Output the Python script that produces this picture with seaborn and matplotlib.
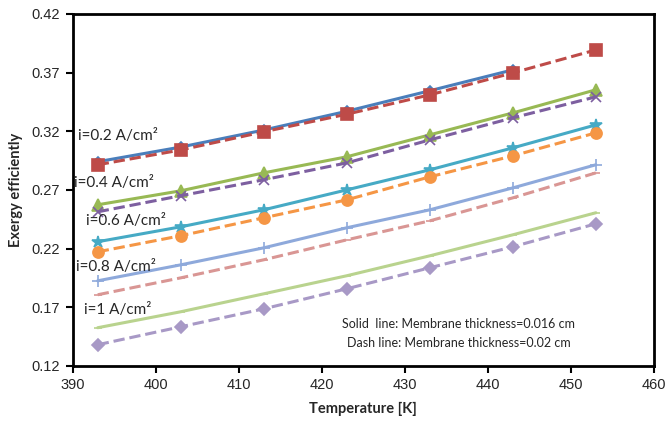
import seaborn as sns
import matplotlib.pyplot as plt

# temperatures [K]
temps = [393, 403, 413, 423, 433, 443, 453]

# solid lines: membrane thickness 0.016 cm
solid_02 = [0.2940, 0.3065, 0.3210, 0.3370, 0.3545, 0.3723]
solid_04 = [0.2573, 0.2692, 0.2845, 0.2982, 0.3169, 0.3356, 0.3553]
solid_06 = [0.2258, 0.2385, 0.2530, 0.2700, 0.2871, 0.3058, 0.3254]
solid_08 = [0.1925, 0.2061, 0.2206, 0.2377, 0.2530, 0.2717, 0.2914]
solid_10 = [0.1525, 0.1661, 0.1814, 0.1968, 0.2138, 0.2317, 0.2505]

# dashed lines: membrane thickness 0.02 cm
dash_02 = [0.2914, 0.3040, 0.3195, 0.3345, 0.3510, 0.3697, 0.3893]
dash_04 = [0.2513, 0.2650, 0.2786, 0.2930, 0.3126, 0.3314, 0.3493]
dash_06 = [0.2172, 0.2309, 0.2462, 0.2615, 0.2811, 0.2990, 0.3186]
dash_08 = [0.1806, 0.1950, 0.2104, 0.2274, 0.2436, 0.2632, 0.2845]
dash_10 = [0.1380, 0.1533, 0.1686, 0.1857, 0.2036, 0.2215, 0.2411]

labels = ["i=0.2 A/cm²", "i=0.4 A/cm²", "i=0.6 A/cm²", "i=0.8 A/cm²", "i=1 A/cm²"]
label_pos = [(390.6, 0.316), (390.2, 0.276), (391.6, 0.2436), (390.4, 0.2044), (391.4, 0.1678)]

sns.set_style("white")
plt.rcParams["font.family"] = ["Liberation Sans", "DejaVu Sans"]
fig = plt.figure(figsize=(6.68, 4.21), dpi=100)
ax = fig.add_axes([0.109, 0.131, 0.870, 0.836])

# (values, colour, linestyle, marker, markersize)
series = [
    (solid_02, "#4A7EBB", "-", "D", 5),
    (dash_02, "#BE4B48", "--", "s", 8),
    (solid_04, "#98B954", "-", "^", 8),
    (dash_04, "#7D5FA0", "--", "x", 7),
    (solid_06, "#46AAC5", "-", "*", 9),
    (dash_06, "#F59645", "--", "o", 8),
    (solid_08, "#8EA9DB", "-", "+", 8),
    (dash_08, "#D99694", "--", "_", 6),
    (solid_10, "#B9D38E", "-", "_", 6),
    (dash_10, "#A899C6", "--", "D", 6),
]

for vals, col, ls, mk, ms in series:
    sns.lineplot(x=temps[:len(vals)], y=vals, ax=ax, color=col, linestyle=ls,
                 linewidth=2.2, marker=mk, markersize=ms, markeredgecolor=col,
                 markeredgewidth=1.2, dashes=ls == "--" and (4, 3) or None)

for lab, (x, y) in zip(labels, label_pos):
    ax.text(x, y, lab, fontsize=11, family="Lato", va="center", ha="left")

ax.text(436.5, 0.1555, "Solid  line: Membrane thickness=0.016 cm", fontsize=9,
        family="Lato", ha="center", va="center")
ax.text(436.5, 0.1395, "Dash line: Membrane thickness=0.02 cm", fontsize=9,
        family="Lato", ha="center", va="center")

ax.set_xlim(390, 460)
ax.set_ylim(0.12, 0.42)
ax.set_xticks(range(390, 461, 10))
ax.set_yticks([0.12, 0.17, 0.22, 0.27, 0.32, 0.37, 0.42])
ax.set_yticklabels(["0.12", "0.17", "0.22", "0.27", "0.32", "0.37", "0.42"])
for s in ax.spines.values():
    s.set_color("black")
    s.set_linewidth(2)
ax.tick_params(axis="both", direction="out", length=5, width=1.5, color="black",
               labelsize=10.5, pad=4, left=True, bottom=True)
ax.set_xlabel("Temperature [K]", fontsize=10.5, fontweight="bold", family="Lato", labelpad=7)
ax.set_ylabel("Exergy efficiently", fontsize=10.5, fontweight="bold", family="Lato", labelpad=6)

plt.savefig("out.png", dpi=100)
